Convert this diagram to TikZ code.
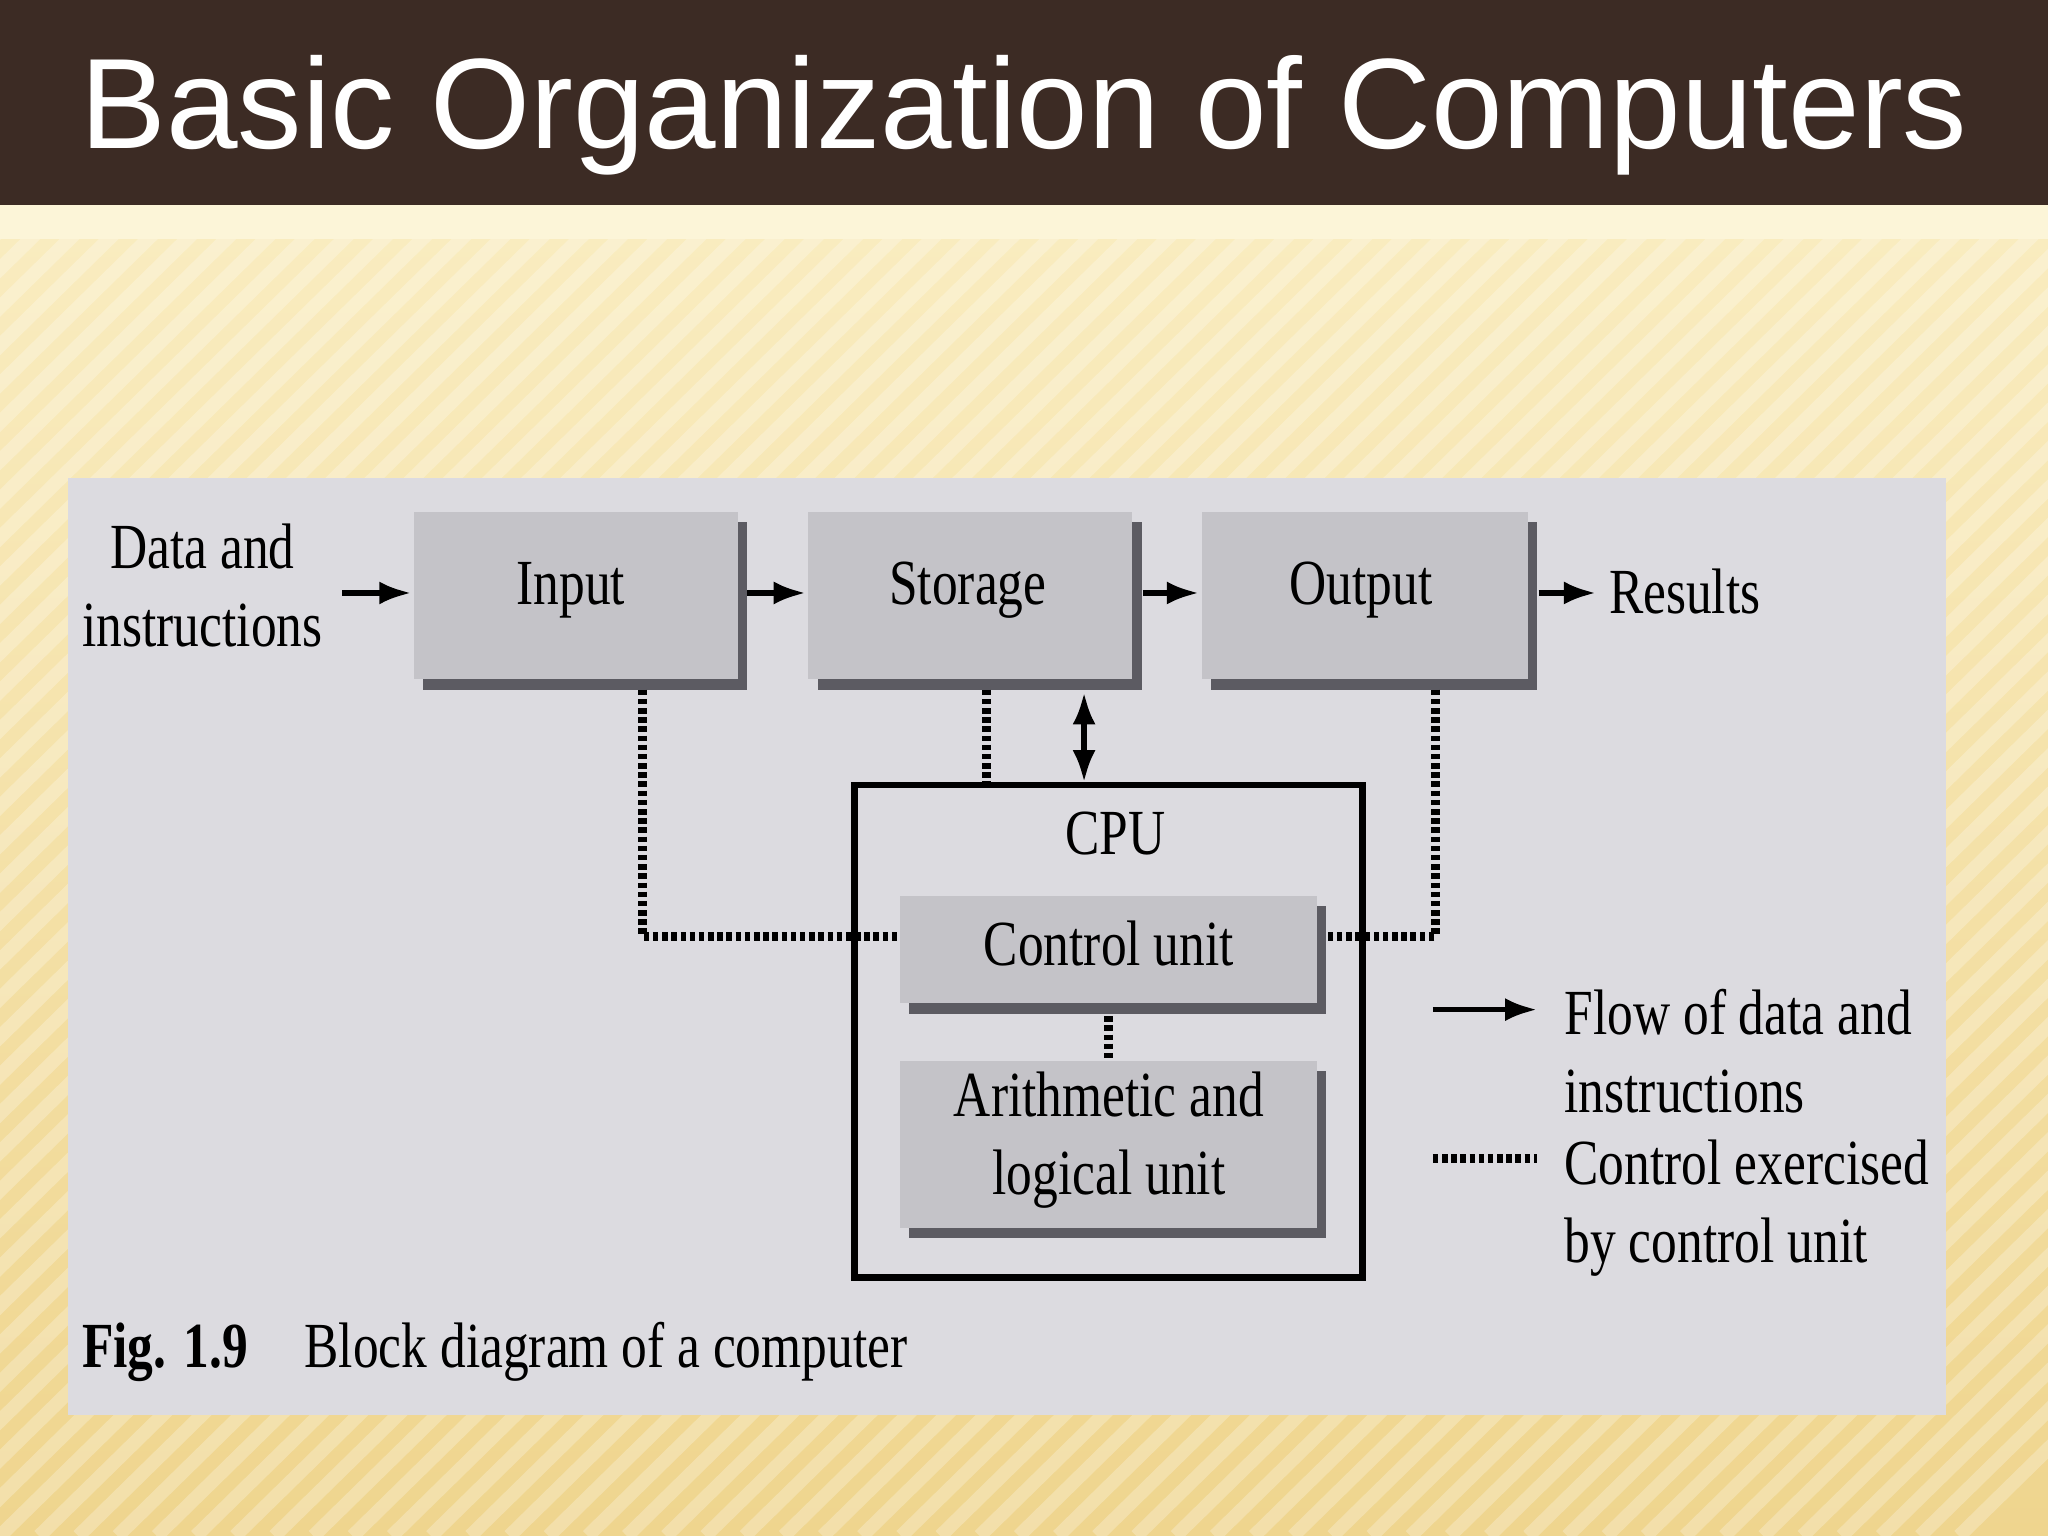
\documentclass[tikz,border=0pt]{standalone}
\usepackage{fontspec}
\setmainfont{Liberation Serif}
\newfontfamily\titlefont{Liberation Sans}
\usetikzlibrary{arrows.meta}
\definecolor{titlebg}{HTML}{3C2B24}
\definecolor{panel}{HTML}{DCDBE0}
\definecolor{boxfill}{HTML}{C4C3C8}
\definecolor{shadow}{HTML}{5C5B62}
\definecolor{bgA}{HTML}{FBF0C8}
\definecolor{bgB}{HTML}{EFD58E}
\tikzset{
 blk/.style={fill=boxfill,draw=none},
 shd/.style={fill=shadow,draw=none},
 lbl/.style={font=\fontsize{14}{18}\selectfont,align=center,xscale=0.8},
 flow/.style={-{Latex[length=7pt,width=5pt]},line width=1.2pt},
 ctrl/.style={line width=2pt,dash pattern=on 1.2pt off 0.8pt},
}
\begin{document}
\begin{tikzpicture}[x=0.01cm,y=-0.01cm]
\useasboundingbox (0,0) rectangle (1568,1176);
\shade[top color=bgA,bottom color=bgB] (0,0) rectangle (1568,1176);
\foreach \i in {0,30,...,2700}{\draw[white,opacity=0.25,line width=3pt] (\i-1200,1176) -- (\i,0);}
\fill[titlebg] (0,0) rectangle (1568,157);
\fill[bgA!70!white] (0,157) rectangle (1568,183);
\node[text=white,font=\titlefont\fontsize{28}{32}\selectfont] (title) at (784,88) {Basic Organization of Computers};
\fill[panel] (52,366) rectangle (1490,1083);
\foreach \n/\xa/\ya/\xb/\yb in {in/317/392/565/520, st/619/392/867/520, out/920/392/1170/520, cu/689/686/1008/768, alu/689/812/1008/940}{
 \fill[shd] (\xa+7,\ya+8) rectangle (\xb+7,\yb+8);
 \fill[blk] (\xa,\ya) rectangle (\xb,\yb);
 \coordinate (\n nw) at (\xa,\ya);
}
\node[lbl] (input) at (437,452) {Input};
\node[lbl] (storage) at (741,452) {Storage};
\node[lbl] (output) at (1042,452) {Output};
\node[lbl] (control) at (849,722) {Control unit};
\node[lbl,align=center] (alu) at (849,873) {Arithmetic and\\[-1pt]logical unit};
\draw[line width=1.5pt] (654,601) rectangle (1043,978);
\node[lbl] (cpu) at (854,638) {CPU};
\node[lbl] (data) at (155,448) {Data and\\[-1pt]instructions};
\node[lbl,anchor=west] (results) at (1222,453) {Results};
\coordinate (a1) at (262,454); \coordinate (a2) at (315,454);
\draw[flow] (a1) -- (a2);
\coordinate (b1) at (572,454); \coordinate (b2) at (617,454);
\draw[flow] (b1) -- (b2);
\coordinate (c1) at (875,454); \coordinate (c2) at (918,454);
\draw[flow] (c1) -- (c2);
\coordinate (d1) at (1178,454); \coordinate (d2) at (1222,454);
\draw[flow] (d1) -- (d2);
\coordinate (e1) at (830,530); \coordinate (e2) at (830,599);
\draw[flow,{Latex[length=7pt,width=5pt]}-{Latex[length=7pt,width=5pt]}] (e1) -- (e2);
\coordinate (f1) at (492,528); \coordinate (f2) at (688,717);
\draw[ctrl] (f1) |- (f2);
\coordinate (g1) at (755,528); \coordinate (g2) at (755,601);
\draw[ctrl] (g1) -- (g2);
\coordinate (h1) at (1099,528); \coordinate (h2) at (1015,717);
\draw[ctrl] (h1) |- (h2);
\coordinate (i1) at (849,778); \coordinate (i2) at (849,811);
\draw[ctrl] (i1) -- (i2);
\coordinate (l1) at (1097,773); \coordinate (l2) at (1177,773);
\draw[flow] (l1) -- (l2);
\coordinate (m1) at (1097,887); \coordinate (m2) at (1177,887);
\draw[ctrl] (m1) -- (m2);
\node[lbl,anchor=north west,align=left] (leg1) at (1188,745) {Flow of data and\\[-1pt]instructions};
\node[lbl,anchor=north west,align=left] (leg2) at (1188,860) {Control exercised\\[-1pt]by control unit};
\node[lbl,anchor=west] (cap) at (53,1035) {\textbf{Fig. 1.9}\hspace{1.1em}Block diagram of a computer};
\end{tikzpicture}
\end{document}
